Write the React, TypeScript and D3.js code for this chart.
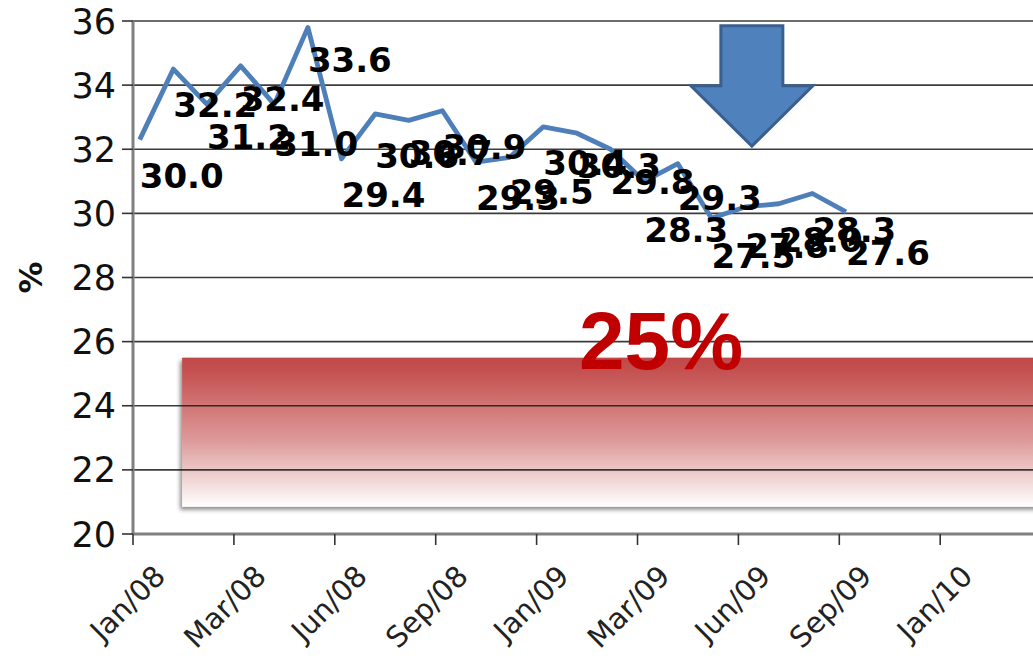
import React from "react";
import * as d3 from "d3";

// ---- data ----
const tickLabels = ["Jan/08", "Mar/08", "Jun/08", "Sep/08", "Jan/09", "Mar/09", "Jun/09", "Sep/09", "Jan/10"];
const lineValues = [32.3, 34.5, 33.4, 34.6, 33.4, 35.8, 31.7, 33.1, 32.9, 33.2, 31.6, 31.75, 32.7, 32.5, 32.0, 31.0, 31.55, 29.85, 30.2, 30.3, 30.62, 30.05];
const labelValues = [30.0, 32.2, 31.2, 32.4, 31.0, 33.6, 29.4, 30.6, 30.7, 30.9, 29.3, 29.5, 30.4, 30.3, 29.8, 28.3, 29.3, 27.5, 27.8, 28.0, 28.3, 27.6];
const yTicks = [20, 22, 24, 26, 28, 30, 32, 34, 36];
const targetText = "25%";
const targetBand = [20.85, 25.5]; // value range of the red band
const arrowVals = { top: 35.85, neck: 33.98, tip: 32.1 };

const W = 1033;
const H = 660;

export default function App() {
  const x = d3.scaleLinear().domain([0, 24]).range([133, 940.2]);
  const y = d3.scaleLinear().domain([20, 36]).range([534, 21]);
  const offset = 0.2;
  const px = (i: number) => x(i + offset);

  const line = d3
    .line<number>()
    .x((_, i) => px(i))
    .y((d) => y(d))
    .curve(d3.curveLinear);

  const right = 1045;

  // arrow
  const ax = x(18.4);
  const shaftHalf = 31;
  const headHalf = 61;
  const arrowPath = [
    [ax - shaftHalf, y(arrowVals.top)],
    [ax + shaftHalf, y(arrowVals.top)],
    [ax + shaftHalf, y(arrowVals.neck)],
    [ax + headHalf, y(arrowVals.neck)],
    [ax, y(arrowVals.tip)],
    [ax - headHalf, y(arrowVals.neck)],
    [ax - shaftHalf, y(arrowVals.neck)],
  ];
  const arrowD = "M" + arrowPath.map((p) => p.join(",")).join("L") + "Z";

  const bandX0 = x(1.46);
  const bandTop = y(targetBand[1]);
  const bandBottom = y(targetBand[0]);

  return (
    <svg width={W} height={H} style={{ position: "absolute", left: 0, top: 0, background: "#fff" }}>
      <defs>
        <linearGradient id="band" x1="0" y1="0" x2="0" y2="1">
          <stop offset="0" stopColor="#c0484a" />
          <stop offset="0.08" stopColor="#c4504f" />
          <stop offset="0.55" stopColor="#dd9898" />
          <stop offset="1" stopColor="#ffffff" />
        </linearGradient>
        <filter id="shadow" x="-5%" y="-5%" width="110%" height="120%">
          <feDropShadow dx="-2" dy="3" stdDeviation="2" floodColor="#000" floodOpacity="0.45" />
        </filter>
      </defs>

      {/* red target band */}
      <rect
        x={bandX0}
        y={bandTop}
        width={right - bandX0}
        height={bandBottom - bandTop}
        fill="url(#band)"
        filter="url(#shadow)"
      />

      {/* gridlines */}
      {yTicks.map((t) => (
        <line key={"g" + t} x1={x(0)} x2={right} y1={y(t)} y2={y(t)} stroke="#1a1a1a" strokeWidth={1.6} strokeOpacity={0.85} />
      ))}

      {/* axes */}
      <line x1={x(0)} x2={x(0)} y1={y(36)} y2={y(20)} stroke="#808080" strokeWidth={3} />
      <line x1={x(0)} x2={right} y1={y(20)} y2={y(20)} stroke="#808080" strokeWidth={3} />
      {yTicks.map((t) => (
        <line key={"yt" + t} x1={x(0) - 11} x2={x(0)} y1={y(t)} y2={y(t)} stroke="#333" strokeWidth={1.6} />
      ))}
      {tickLabels.map((_, j) => (
        <line key={"xt" + j} x1={x(3 * j)} x2={x(3 * j)} y1={y(20)} y2={y(20) + 11} stroke="#333" strokeWidth={1.6} />
      ))}

      {/* y tick labels */}
      {yTicks.map((t) => (
        <text
          key={"yl" + t}
          x={x(0) - 17}
          y={y(t)}
          dy="0.36em"
          textAnchor="end"
          fontFamily="DejaVu Sans"
          fontSize={35}
          fill="#111"
        >
          {t}
        </text>
      ))}

      {/* y axis title */}
      <text
        transform={`translate(42,${y(28)}) rotate(-90)`}
        textAnchor="middle"
        fontFamily="DejaVu Sans"
        fontWeight="bold"
        fontSize={32}
        fill="#111"
      >
        %
      </text>

      {/* x tick labels */}
      {tickLabels.map((lab, j) => (
        <text
          key={"xl" + lab}
          transform={`translate(${x(3 * j) + 34},${y(20) + 44}) rotate(-45)`}
          textAnchor="end"
          fontFamily="DejaVu Sans"
          fontSize={29}
          fill="#222"
        >
          {lab}
        </text>
      ))}

      {/* data line */}
      <path d={line(lineValues) || ""} fill="none" stroke="#4f7fb8" strokeWidth={4.8} strokeLinejoin="round" />

      {/* data labels */}
      {labelValues.map((v, i) => (
        <text
          key={"dl" + i}
          x={px(i)}
          y={y(v) - 38}
          dy="0.36em"
          fontFamily="DejaVu Sans"
          fontWeight="bold"
          fontSize={34}
          fill="#000"
        >
          {v.toFixed(1)}
        </text>
      ))}

      {/* arrow */}
      <path d={arrowD} fill="#4f81bd" stroke="#3a5f8f" strokeWidth={3} strokeLinejoin="miter" />

      {/* target text */}
      <text
        x={x(15.7)}
        y={y(26.1) + 31}
        textAnchor="middle"
        fontFamily="Liberation Sans"
        fontWeight="bold"
        fontSize={82}
        fill="#c00000"
      >
        {targetText}
      </text>
    </svg>
  );
}
